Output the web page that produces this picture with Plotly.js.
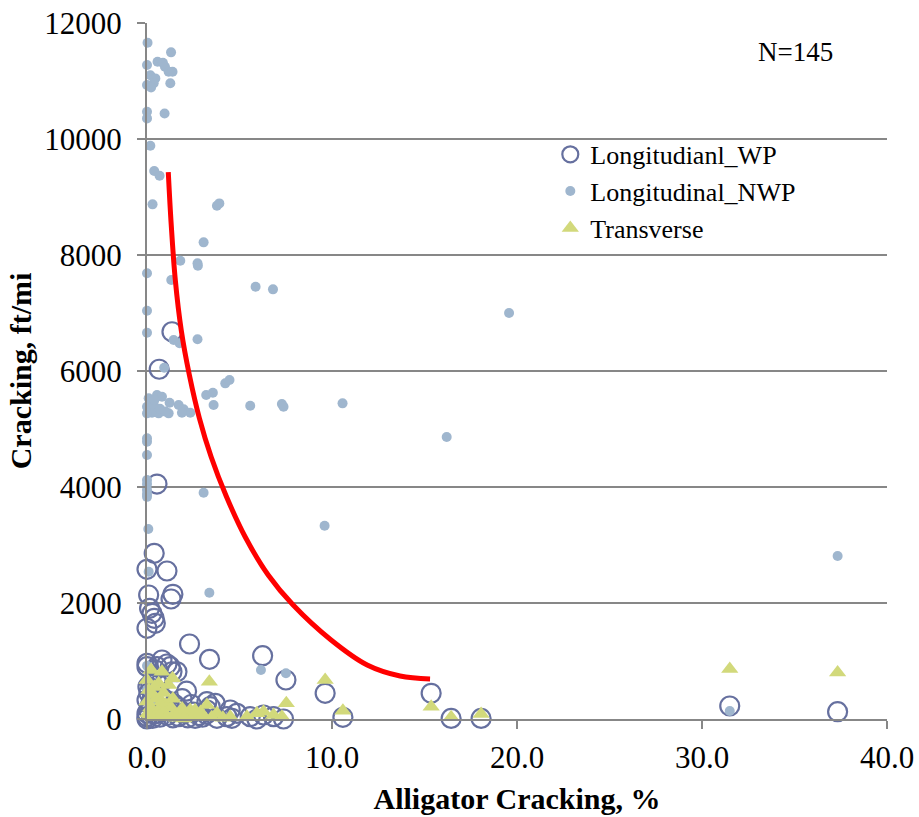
<!DOCTYPE html>
<html>
<head>
<meta charset="utf-8">
<script src="https://cdn.plot.ly/plotly-3.0.1.min.js"></script>
<style>
  html, body { margin: 0; padding: 0; background: #ffffff; }
  #chart { width: 919px; height: 817px; }
</style>
</head>
<body>
<div id="chart"></div>
<script>
// ---- Data ----
const seriesNames = ["Longitudianl_WP", "Longitudinal_NWP", "Transverse"];

const wpX = [1.35, 0.66, 0.54, 0.39, 0.00, 1.08, 0.09, 1.40, 1.30, 0.14, 0.27, 0.39, 0.00, 0.45,
  2.30, 3.38, 6.25, 7.51, 9.63, 10.59, 15.36, 16.44, 18.06, 31.50, 37.33,
  0.00, 0.81, 1.08, 1.35, 0.45, 0.54, 1.26, 1.62, 0.00, 2.14,
  3.24, 3.69, 3.42, 4.50, 3.24, 4.32, 4.59, 3.78, 4.86,
  0.05, 0.00, 0.00, 0.00, 5.58, 5.94, 6.30, 6.84, 7.38,
  0.10, 0.30, 0.60, 0.90, 1.20, 0.20, 0.50, 1.00, 1.50, 1.80, 2.00, 2.50, 2.80,
  0.10, 0.40, 0.70, 1.10, 1.40, 1.70, 2.20, 2.60, 3.00, 3.20, 0.00, 0.30, 0.80,
  1.30, 2.40, 1.90, 0.20, 0.50, 0.80];
const wpY = [6677, 6030, 4051, 2856, 2581, 2552, 2138, 2150, 2069, 1908, 1822, 1736, 1564, 1650,
  1293, 1029, 1091, 672, 443, 29, 443, 10, 10, 224, 126,
  960, 1017, 948, 815, 845, 902, 902, 815, 902, 480,
  298, 270, 212, 155, 155, 40, 12, 12, 98,
  557, 328, 98, 0, 40, 0, 69, 40, 0,
  450, 380, 420, 350, 300, 250, 200, 180, 250, 150, 100, 120, 60,
  150, 80, 30, 60, 20, 40, 20, 10, 30, 80, 40, 10, 120,
  140, 250, 350, 600, 700, 650];

const nwpX = [0.03, 1.30, 0.00, 0.57, 0.86, 0.97, 1.17, 1.38, 0.18, 0.45, 0.36, 0.00, 0.22, 1.26,
  0.00, 0.00, 0.95, 0.18, 0.39, 0.68, 0.30, 3.78, 3.91, 3.06,
  1.80, 2.73, 2.75, 0.00, 1.31, 5.87, 6.81, 19.57,
  0.00, 0.00, 1.44, 1.76, 2.73, 0.93,
  4.23, 4.46, 3.20, 3.56, 3.60, 5.58, 7.29, 7.38, 10.57,
  0.09, 0.54, 0.81, 1.22, 1.71, 1.98, 2.34, 1.17, 0.63, 0.27, 0.00, 0.00, 0.36, 1.89, 0.40, 0.70, 1.00,
  0.00, 0.00, 0.00, 0.00, 0.00, 0.00, 0.00, 0.00, 3.06, 16.20, 9.60, 37.33,
  0.07, 0.09, 3.37, 0.00, 6.16, 7.51, 31.50, 0.00, 0.20, 0.10];
const nwpY = [11660, 11494, 11275, 11333, 11316, 11247, 11160, 11160, 11100, 11045, 10960, 10930, 10890, 10960,
  10470, 10355, 10440, 9884, 9448, 9367, 8873, 8850, 8890, 8218,
  7901, 7856, 7815, 7684, 7568, 7453, 7408, 7000,
  7039, 6660, 6534, 6477, 6546, 6057,
  5787, 5844, 5586, 5626, 5413, 5401, 5430, 5384, 5442,
  5529, 5586, 5557, 5453, 5413, 5339, 5281, 5270, 5270, 5281, 5384, 5270, 5413, 5281, 5500, 5350, 5300,
  4839, 4781, 4551, 4120, 4050, 3950, 3880, 3830, 3901, 4862, 3333, 2810,
  3276, 2540, 2178, 919, 845, 788, 138, 500, 300, 100];

const trX = [31.50, 37.33, 9.63, 10.59, 15.36, 16.44, 18.06, 7.53, 6.30, 6.84, 7.29,
  3.37, 1.38, 0.81, 0.22, 0.00, 1.17, 0.63, 2.34, 3.24, 3.78, 4.50, 5.40, 5.94,
  0.10, 0.30, 0.50, 0.80, 1.00, 1.30, 0.20, 0.60, 0.90, 1.50, 1.80, 2.10, 2.50, 2.80, 3.00,
  0.10, 0.40, 0.70, 1.10, 1.60, 2.00, 0.00, 0.05, 1.40, 0.90, 0.40, 3.50, 4.10, 2.90, 2.60, 1.90];
const trY = [862, 800, 672, 143, 212, 29, 86, 271, 126, 69, 40,
  643, 701, 815, 845, 672, 586, 615, 155, 241, 98, 40, 40, 98,
  500, 420, 350, 300, 250, 200, 200, 150, 120, 100, 80, 60, 40, 30, 60,
  50, 30, 60, 40, 20, 10, 300, 100, 350, 450, 550, 30, 20, 120, 150, 180];

// Red trend curve
const curveX = [1.15, 1.31, 1.53, 1.85, 2.29, 2.83, 3.47, 4.28, 5.31, 6.55, 7.90, 9.95, 11.90, 13.68, 15.30];
const curveY = [9430, 8517, 7568, 6706, 5931, 5189, 4517, 3845, 3138, 2483, 1965, 1362, 931, 741, 690];

// Axis ticks
const xTickVals = [0, 10, 20, 30, 40];
const xTickText = ["0.0", "10.0", "20.0", "30.0", "40.0"];
const yTickVals = [0, 2000, 4000, 6000, 8000, 10000, 12000];
const yTickText = ["0", "2000", "4000", "6000", "8000", "10000", "12000"];

// ---- Styles ----
const FONT = "Liberation Serif, Times New Roman, serif";
const GRAY = "#878787";

const traces = [
  {
    type: "scatter", mode: "markers", name: seriesNames[0],
    x: wpX, y: wpY, cliponaxis: false,
    marker: { symbol: "circle-open", size: 19, color: "#66709f", line: { width: 2.2, color: "#66709f" } }
  },
  {
    type: "scatter", mode: "markers", name: seriesNames[1],
    x: nwpX, y: nwpY, cliponaxis: false,
    marker: { symbol: "circle", size: 10, color: "#9fb6ce" }
  },
  {
    type: "scatter", mode: "markers", name: seriesNames[2],
    x: trX, y: trY, cliponaxis: false,
    marker: { symbol: "triangle-up", size: 15, color: "#d2d97b" }
  },
  {
    type: "scatter", mode: "lines", name: "trend", showlegend: false,
    x: curveX, y: curveY, cliponaxis: false,
    line: { color: "#ff0000", width: 5, shape: "spline", smoothing: 1 }
  }
];

const layout = {
  width: 919, height: 817,
  margin: { l: 147, r: 32, t: 23, b: 98 },
  paper_bgcolor: "#ffffff", plot_bgcolor: "#ffffff",
  font: { family: FONT, size: 26, color: "#000000" },
  showlegend: true,
  legend: {
    x: 0.545, y: 0.845, xanchor: "left", yanchor: "top",
    bgcolor: "rgba(0,0,0,0)", borderwidth: 0,
    font: { family: FONT, size: 26, color: "#000000" },
    itemwidth: 30
  },
  xaxis: {
    range: [0, 40], tickvals: xTickVals, ticktext: xTickText,
    showline: true, linecolor: GRAY, linewidth: 2,
    ticks: "outside", ticklen: 8, tickwidth: 2, tickcolor: GRAY,
    showgrid: false, zeroline: false,
    tickfont: { family: FONT, size: 31, color: "#000000" },
    ticklabelstandoff: 2,
    title: { text: "<b>Alligator Cracking, %</b>", font: { family: FONT, size: 30, color: "#000000" }, standoff: 14 }
  },
  yaxis: {
    range: [0, 12000], tickvals: yTickVals, ticktext: yTickText,
    showline: true, linecolor: GRAY, linewidth: 2,
    ticks: "outside", ticklen: 8, tickwidth: 2, tickcolor: GRAY,
    showgrid: true, gridcolor: GRAY, gridwidth: 2,
    zeroline: false,
    tickfont: { family: FONT, size: 31, color: "#000000" },
    ticklabelstandoff: 9,
    title: { text: "<b>Cracking, ft/mi</b>", font: { family: FONT, size: 30, color: "#000000" }, standoff: 4 }
  },
  annotations: [
    {
      xref: "paper", yref: "paper", x: 0.876, y: 0.958,
      xanchor: "center", yanchor: "middle", showarrow: false,
      text: "N=145", font: { family: FONT, size: 27, color: "#000000" }
    }
  ]
};

Plotly.newPlot("chart", traces, layout, { displayModeBar: false, staticPlot: true });
</script>
</body>
</html>
